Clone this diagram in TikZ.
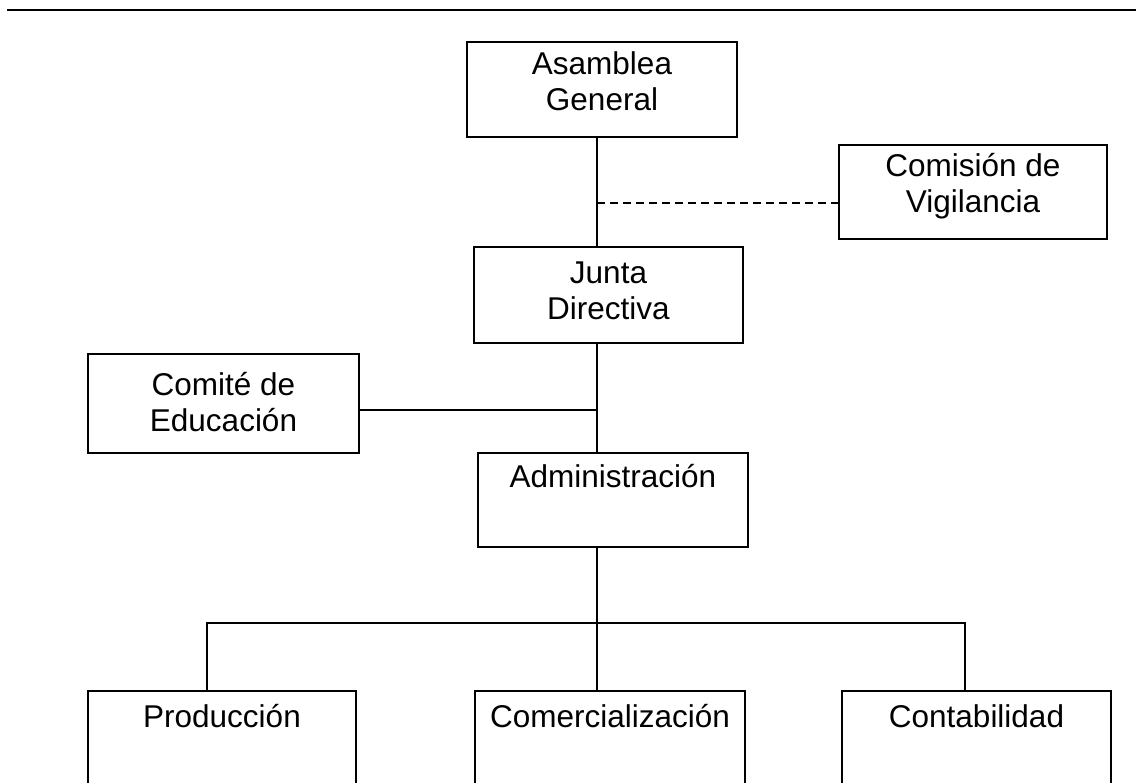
\documentclass[tikz,border=0pt]{standalone}
\usepackage{fontspec}
\setmainfont{Liberation Sans}
\newcommand{\twol}[2]{\begin{tabular}[t]{@{}c@{}}#1\\#2\end{tabular}}
\begin{document}
\begin{tikzpicture}[x=1pt,y=-1pt,
  box/.style={draw, line width=2pt, inner sep=0pt, align=center,
    font=\fontsize{31.5}{36}\selectfont},
  conn/.style={line width=2pt},
  dashconn/.style={line width=1.8pt, dash pattern=on 8pt off 5pt}]
\useasboundingbox (0,0) rectangle (1136,783);
\clip (0,0) rectangle (1136,783);
% top rule
\coordinate (tl) at (7,10);
\coordinate (tr) at (1136,10);
\draw[line width=2.5pt] (tl) -- (tr);
% boxes
\node[box, minimum width=270pt, text height=33pt, text depth=62pt] (ag) at (602,89.5) {\twol{Asamblea}{General}};
\node[box, minimum width=268pt, text height=32pt, text depth=62pt] (cv) at (973,192) {\twol{Comisión de}{Vigilancia}};
\node[box, minimum width=269pt, text height=37pt, text depth=59pt] (jd) at (608.5,295) {\twol{Junta}{Directiva}};
\node[box, minimum width=271pt, text height=42pt, text depth=57pt] (ce) at (223.5,403.5) {\twol{Comité de}{Educación}};
\node[box, minimum width=270pt, text height=35pt, text depth=59pt] (ad) at (613,500) {Administración};
\node[box, minimum width=268pt, text height=36pt, text depth=160pt] (pr) at (222,789) {Producción};
\node[box, minimum width=270pt, text height=36pt, text depth=160pt] (co) at (610,789) {Comercialización};
\node[box, minimum width=269pt, text height=36pt, text depth=160pt] (cn) at (976.5,789) {Contabilidad};
% spine and junctions
\coordinate (sp) at (597,0);
\coordinate (dj) at (597,203);
\coordinate (ej) at (597,410);
\coordinate (br) at (597,623);
\coordinate (bl) at (207,623);
\coordinate (bq) at (965,623);
% connectors
\draw[conn] (ag.south -| sp) -- (jd.north -| sp);
\draw[dashconn] (dj) -- (dj -| cv.west);
\draw[conn] (jd.south -| sp) -- (ad.north -| sp);
\draw[conn] (ej -| ce.east) -- (ej);
\draw[conn] (ad.south -| sp) -- (br);
\draw[conn] (br) -- (co.north -| sp);
\draw[conn] (pr.north -| bl) -- (bl) -- (bq) -- (cn.north -| bq);
\end{tikzpicture}
\end{document}
